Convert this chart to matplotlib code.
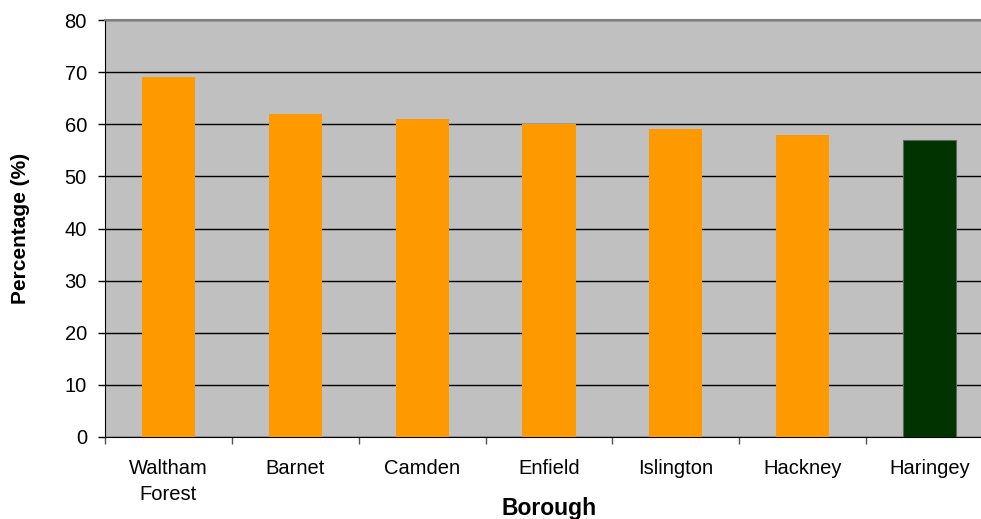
import matplotlib
matplotlib.use("Agg")
import matplotlib.pyplot as plt
import numpy as np

boroughs = ["Waltham\nForest", "Barnet", "Camden", "Enfield", "Islington", "Hackney", "Haringey"]
values = [69, 62, 61, 60, 59, 58, 57]
colors = ["#FF9900"] * 6 + ["#003300"]

plt.rcParams['font.family'] = ['Liberation Sans', 'DejaVu Sans']

W, H = 981, 519
fig = plt.figure(figsize=(W / 100, H / 100), dpi=100)
left, right, top, bottom = 105, 993, 20, 437
ax = fig.add_axes([left / W, 1 - bottom / H, (right - left) / W, (bottom - top) / H])
ax.set_facecolor("#C0C0C0")

x = np.arange(len(boroughs))
edgec = ["none"] * 6 + ["#5a6a5a"]
ax.bar(x, values, width=0.42, color=colors, edgecolor=edgec, linewidth=0.8, zorder=3)

ax.set_xlim(-0.5, len(boroughs) - 0.5)
ax.set_ylim(0, 80)
ax.set_yticks(np.arange(0, 81, 10))
ax.yaxis.grid(True, color="black", linewidth=1.0, zorder=1)
ax.set_axisbelow(True)

ax.set_xticks(x)
ax.set_xticklabels(boroughs, fontsize=14.5, linespacing=1.45)
ax.set_xticks(np.arange(-0.5, len(boroughs), 1), minor=True)
ax.tick_params(axis='x', which='major', length=0, pad=16)
ax.tick_params(axis='x', which='minor', length=5, width=1, color='#555555', direction='out')
ax.tick_params(axis='y', labelsize=14.5, length=5, width=1, direction='out', pad=8)

ax.spines["right"].set_visible(False)
ax.spines["top"].set_color("#808080")
ax.spines["top"].set_linewidth(1.5)
ax.spines["left"].set_color("black")
ax.spines["bottom"].set_color("black")

fig.text(549 / W, 1 - 509 / H, "Borough", fontsize=16.5, fontweight="bold",
         ha="center", va="center")
fig.text(21 / W, 1 - 228 / H, "Percentage (%)", fontsize=15, fontweight="bold",
         ha="center", va="center", rotation=90)

fig.savefig("out.png", dpi=100)
